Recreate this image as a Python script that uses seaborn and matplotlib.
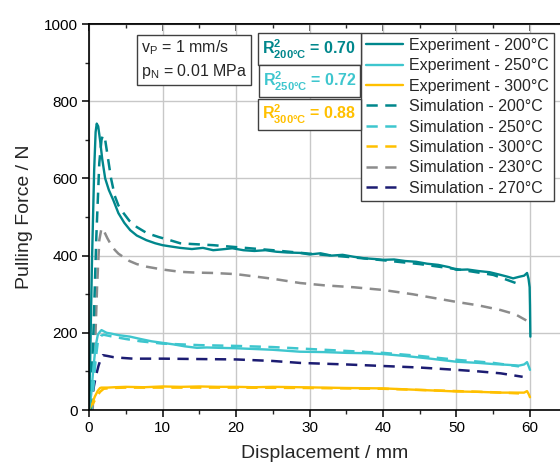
import matplotlib
matplotlib.use("Agg")
import matplotlib.pyplot as plt
import seaborn as sns
import pandas as pd
from matplotlib.ticker import MultipleLocator

# ---------------- data ----------------
exp200_x = [0.0, 0.15, 0.4, 0.7, 0.9, 1.05, 1.25, 1.5, 1.8, 2.2, 2.7, 3.3, 4.0, 4.8, 5.6, 6.5, 7.8, 9.0, 10.0, 11.0, 12.4, 14.0, 15.5, 16.9, 18.0, 19.5, 21.0, 22.5, 24.0, 25.5, 27.0, 28.7, 30.0, 31.5, 33.0, 34.5, 36.0, 37.5, 39.0, 40.0, 41.5, 43.0, 44.5, 46.0, 47.5, 49.0, 50.0, 51.5, 53.0, 54.5, 56.0, 57.0, 57.7, 58.5, 59.2, 59.6, 59.8, 59.95, 60.0, 60.05]
exp200_y = [0, 120, 380, 620, 720, 742, 735, 700, 650, 600, 570, 544, 510, 485, 466, 452, 440, 432, 427, 424, 420, 417, 420, 414, 416, 419, 414, 412, 414, 410, 408, 407, 403, 406, 400, 402, 397, 393, 391, 389, 390, 386, 384, 379, 376, 370, 363, 364, 360, 357, 350, 345, 341, 345, 348, 355, 340, 318, 270, 190]

sim200_x = [0.2, 0.6, 1.0, 1.4, 1.7, 1.9, 2.2, 2.6, 3.0, 3.5, 4.0, 4.7, 5.5, 6.5, 7.9, 9.5, 11.0, 12.4, 14.0, 16.9, 20.0, 25.0, 30.0, 35.0, 40.0, 45.0, 50.0, 55.0, 58.5]
sim200_y = [0, 200, 450, 640, 700, 712, 700, 650, 600, 555, 530, 510, 490, 474, 458, 448, 440, 432, 430, 427, 422, 414, 405, 397, 388, 378, 365, 350, 326]

sim230_x = [0.5, 0.8, 1.1, 1.4, 1.7, 2.0, 2.5, 3.0, 3.5, 4.0, 4.7, 5.5, 6.5, 7.9, 10.0, 12.4, 14.5, 16.9, 20.0, 25.0, 28.7, 32.0, 36.0, 40.0, 44.0, 47.0, 50.0, 53.0, 56.0, 58.0, 59.5]
sim230_y = [0, 150, 320, 440, 471, 465, 445, 428, 415, 405, 396, 386, 378, 371, 364, 358, 356, 355, 352, 340, 329, 323, 318, 311, 300, 290, 280, 271, 259, 248, 232]

exp250_x = [0.0, 0.3, 0.6, 0.9, 1.2, 1.5, 1.7, 2.0, 2.4, 3.0, 4.0, 5.6, 7.0, 8.5, 10.0, 11.5, 13.0, 14.7, 16.0, 17.8, 20.0, 22.5, 25.0, 28.7, 32.0, 35.0, 38.0, 40.0, 43.0, 46.0, 50.0, 53.0, 55.0, 57.0, 58.5, 59.2, 59.6, 59.85, 60.0]
exp250_y = [0, 40, 110, 165, 195, 203, 207, 204, 200, 198, 194, 190, 184, 178, 174, 170, 165, 161, 162, 161, 160, 158, 156, 151, 150, 148, 147, 145, 140, 134, 125, 122, 119, 117, 115, 118, 124, 112, 104]

sim250_x = [0.3, 0.6, 0.9, 1.2, 1.6, 2.0, 3.0, 5.0, 7.0, 10.0, 15.0, 20.0, 25.0, 30.0, 35.0, 40.0, 45.0, 50.0, 55.0, 58.5]
sim250_y = [0, 60, 130, 177, 192, 195, 191, 184, 178, 172, 168, 166, 163, 158, 153, 148, 140, 130, 122, 113]

sim270_x = [0.2, 0.5, 0.9, 1.3, 1.6, 1.9, 2.5, 3.3, 4.5, 6.0, 8.0, 10.0, 15.0, 20.0, 25.0, 28.7, 35.0, 40.0, 45.0, 50.0, 53.0, 56.0, 59.0]
sim270_y = [0, 45, 85, 115, 132, 142, 140, 137, 135, 133, 133, 133, 132, 131, 127, 122, 118, 114, 110, 104, 100, 95, 86]

exp300_x = [0.0, 0.4, 0.8, 1.2, 1.5, 1.7, 2.5, 3.5, 5.0, 7.5, 10.0, 12.5, 15.0, 17.5, 20.0, 22.5, 25.0, 28.7, 32.0, 35.0, 40.0, 45.0, 50.0, 53.0, 56.0, 58.5, 59.2, 59.6, 59.85, 60.0]
exp300_y = [0, 15, 35, 50, 57, 58, 58, 59, 60, 59, 61, 60, 61, 60, 60, 59, 60, 59, 58, 57, 56, 52, 48, 47, 45, 45, 45, 49, 40, 33]

sim300_x = [0.0, 0.5, 1.0, 1.5, 2.0, 3.0, 5.0, 10.0, 20.0, 30.0, 40.0, 50.0, 55.0, 58.5]
sim300_y = [0, 15, 33, 47, 55, 57, 58, 58, 58, 57, 55, 49, 46, 43]

x_ticks = [0, 10, 20, 30, 40, 50, 60]
y_ticks = [0, 200, 400, 600, 800, 1000]

TEAL = "#00878C"
CYAN = "#3EC6CE"
ORANGE = "#FFC000"
GREY = "#8C8C8C"
NAVY = "#1C1C72"

# ---------------- style ----------------
sns.set_theme(style="white")
plt.rcParams["font.family"] = ["Liberation Sans", "DejaVu Sans"]
plt.rcParams["mathtext.fontset"] = "custom"
plt.rcParams["mathtext.rm"] = "Liberation Sans"
plt.rcParams["mathtext.it"] = "Liberation Sans"
plt.rcParams["mathtext.bf"] = "Liberation Sans:bold"

fig = plt.figure(figsize=(5.6, 4.7), dpi=100)
ax = fig.add_axes([89 / 560, 60 / 470, (560 - 89) / 560, (410 - 24) / 470])

DASH = (4.5, 3.0)
series = [
    ("Simulation - 230°C", sim230_x, sim230_y, GREY, True),
    ("Simulation - 270°C", sim270_x, sim270_y, NAVY, True),
    ("Simulation - 300°C", sim300_x, sim300_y, ORANGE, True),
    ("Simulation - 250°C", sim250_x, sim250_y, CYAN, True),
    ("Simulation - 200°C", sim200_x, sim200_y, TEAL, True),
    ("Experiment - 300°C", exp300_x, exp300_y, ORANGE, False),
    ("Experiment - 250°C", exp250_x, exp250_y, CYAN, False),
    ("Experiment - 200°C", exp200_x, exp200_y, TEAL, False),
]
handles = {}
for name, xs, ys, col, dashed in series:
    df = pd.DataFrame({"x": xs, "y": ys})
    sns.lineplot(data=df, x="x", y="y", ax=ax, color=col, estimator=None,
                 sort=False, lw=1.8 if dashed else 1.7, label=name)
    ln = ax.lines[-1]
    if dashed:
        ln.set_dashes(DASH)
    handles[name] = ln

order = ["Experiment - 200°C", "Experiment - 250°C", "Experiment - 300°C",
         "Simulation - 200°C", "Simulation - 250°C", "Simulation - 300°C",
         "Simulation - 230°C", "Simulation - 270°C"]
leg = ax.legend([handles[n] for n in order], order, loc="upper right",
                bbox_to_anchor=(554 / 560, 1 - 33 / 470), bbox_transform=fig.transFigure,
                borderaxespad=0, fontsize=11.5, frameon=True, fancybox=False,
                framealpha=1, edgecolor="#404040", handlelength=2.3,
                handletextpad=0.4, labelspacing=0.34, borderpad=0.3)
leg.get_frame().set_linewidth(1.0)

ax.set_xlim(0, (560 - 89) / 7.35)
ax.set_ylim(0, 1000)
ax.set_xticks(x_ticks)
ax.set_yticks(y_ticks)
ax.xaxis.set_minor_locator(MultipleLocator(5))
ax.yaxis.set_minor_locator(MultipleLocator(100))
ax.tick_params(axis="both", which="major", direction="out", length=5, width=1.1,
               labelsize=11, colors="black", pad=3)
ax.tick_params(axis="both", which="minor", direction="out", length=3, width=1.0)
ax.tick_params(axis="x", bottom=True, which="both")
ax.tick_params(axis="y", left=True, which="both")
ax.grid(True, which="major", color="#C8C8C8", lw=1.0)
for s in ["left", "bottom", "top"]:
    ax.spines[s].set_color("black")
    ax.spines[s].set_linewidth(1.2)
ax.spines["right"].set_visible(False)

top = ax.secondary_xaxis("top")
top.set_xticks(x_ticks)
top.xaxis.set_minor_locator(MultipleLocator(5))
top.tick_params(which="major", direction="in", length=5, width=1.1, labeltop=False)
top.tick_params(which="minor", direction="in", length=3, width=1.0)
top.spines["top"].set_linewidth(1.2)

ax.set_xlabel("Displacement / mm", fontsize=14, labelpad=7)
ax.set_ylabel("Pulling Force / N", fontsize=14, labelpad=8)

# annotation boxes
fig.text(141 / 560, 1 - 60 / 470, "v$_\\mathrm{P}$ = 1 mm/s\np$_\\mathrm{N}$ = 0.01 MPa",
         fontsize=11.5, ha="left", va="center", linespacing=1.35,
         bbox=dict(boxstyle="square,pad=0.25", fc="white", ec="#404040", lw=1.0))
r2 = [("200", "0.70", TEAL, 49), ("250", "0.72", CYAN, 81), ("300", "0.88", ORANGE, 114.5)]
for t, v, col, yc in r2:
    fig.text(309.5 / 560, 1 - yc / 470,
             r"$\mathbf{R^2_{%s\mathbf{°C}}}$ = %s" % (t, v),
             fontsize=11.5, fontweight="bold", color=col, ha="center", va="center",
             bbox=dict(boxstyle="square,pad=0.25", fc="white", ec="#404040", lw=1.0))

fig.savefig("out.png", dpi=100)
